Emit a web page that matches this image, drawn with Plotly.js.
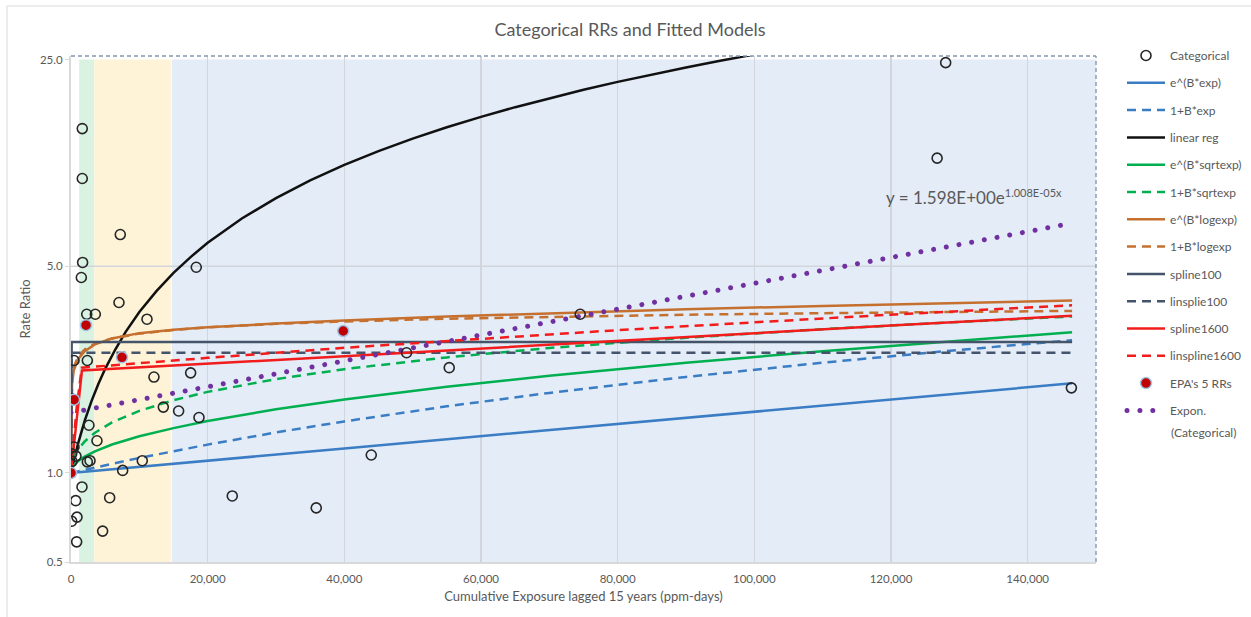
<!DOCTYPE html>
<html>
<head>
<meta charset="utf-8">
<script src="https://cdn.plot.ly/plotly-3.0.1.min.js"></script>
<style>
  html, body { margin: 0; padding: 0; background: #ffffff; }
  #chart { width: 1251px; height: 617px; }
</style>
</head>
<body>
<div id="chart"></div>
<script>
// ---------- data ----------
const catX = [1650, 1650, 7210, 1700, 1510, 18330, 7020, 2300, 3560, 11120, 440, 2390, 12140, 17510, 0, 13510, 15750, 18730, 2630, 3800, 440, 100, 730, 2390, 2780, 10430, 150, 7560, 1610, 5660, 690, 23600, 100, 880, 4630, 830, 35890, 43940, 49110, 55350, 74520, 128000, 126750, 146400];
const catY = [14.6, 9.9, 6.4, 5.15, 4.58, 4.96, 3.77, 3.44, 3.44, 3.31, 2.40, 2.40, 2.11, 2.18, 1.785, 1.67, 1.62, 1.54, 1.45, 1.285, 1.224, 1.16, 1.14, 1.09, 1.10, 1.10, 1.095, 1.02, 0.897, 0.825, 0.806, 0.836, 0.687, 0.709, 0.636, 0.585, 0.762, 1.15, 2.55, 2.27, 3.44, 24.4, 11.6, 1.94];

const curveX   = [0, 50, 150, 400, 1000, 2000, 3500, 6000, 10000, 15000, 20000, 30000, 40000, 55000, 70000, 90000, 110000, 130000, 146500];
const expSolid = [1.0, 1.0, 1.001, 1.002, 1.005, 1.01, 1.017, 1.029, 1.049, 1.074, 1.1, 1.154, 1.21, 1.3, 1.396, 1.536, 1.69, 1.86, 2.01];
const expDash  = [1.0, 1.001, 1.002, 1.005, 1.012, 1.025, 1.043, 1.074, 1.124, 1.185, 1.247, 1.371, 1.494, 1.68, 1.865, 2.112, 2.36, 2.607, 2.81];
const sqrtSolid = [1.0, 1.02, 1.036, 1.059, 1.095, 1.136, 1.184, 1.248, 1.331, 1.418, 1.498, 1.642, 1.772, 1.955, 2.131, 2.36, 2.58, 2.80, 2.99];
const sqrtDash  = [1.0, 1.044, 1.076, 1.124, 1.197, 1.278, 1.368, 1.482, 1.622, 1.762, 1.88, 2.077, 2.244, 2.459, 2.646, 2.866, 3.063, 3.243, 3.381];
const logSolid  = [1.0, 1.75, 2.0, 2.22, 2.42, 2.58, 2.72, 2.85, 2.97, 3.05, 3.11, 3.2, 3.28, 3.38, 3.47, 3.58, 3.67, 3.76, 3.83];
const logDash   = [1.0, 1.836, 2.066, 2.275, 2.469, 2.617, 2.736, 2.851, 2.959, 3.045, 3.107, 3.193, 3.254, 3.322, 3.373, 3.427, 3.47, 3.505, 3.531];

const linRegX = [0, 250, 500, 1000, 1500, 2000, 3000, 4000, 5000, 6500, 8000, 10000, 12500, 15000, 17500, 20000, 25000, 30000, 35000, 40000, 45000, 50000, 55000, 60000, 65000, 70000, 75000, 80000, 85000, 90000, 95000, 100000];
const linRegY = [1.0, 1.06, 1.12, 1.25, 1.37, 1.5, 1.75, 2.0, 2.25, 2.62, 3.0, 3.5, 4.12, 4.75, 5.37, 6.0, 7.25, 8.5, 9.75, 11.0, 12.25, 13.5, 14.75, 16.0, 17.25, 18.5, 19.75, 21.0, 22.25, 23.5, 24.75, 26.0];

const spline100X = [0, 100, 146500];
const spline100Y = [1.0, 2.77, 2.77];
const linspline100X = [0, 100, 146500];
const linspline100Y = [1.0, 2.55, 2.55];

const spline1600X = [0, 1600, 40000, 80000, 120000, 146500];
const spline1600Y = [1.0, 2.22, 2.48, 2.8, 3.15, 3.40];
const linspline1600X = [0, 400, 800, 1200, 1600, 20000, 40000, 60000, 80000, 100000, 120000, 146500];
const linspline1600Y = [1.0, 1.32, 1.64, 1.95, 2.27, 2.45, 2.65, 2.84, 3.04, 3.23, 3.43, 3.69];

const epaX = [0, 440, 2200, 7460, 39840];
const epaY = [1.0, 1.77, 3.16, 2.46, 3.02];

const trendX = [0, 50000, 100000, 146500];
const trendY = [1.60, 2.64, 4.37, 6.99];

const yTickVals = [0.5, 1, 5, 25];
const yTickText = ['0.5', '1.0', '5.0', '25.0'];

// ---------- styling ----------
const FONT = 'Lato, "Open Sans", sans-serif';
const GREY = '#595959';
const W = 2.5;
const DASH = '9px,6px';

function line(name, x, y, color, dash, rank, width) {
  return {
    type: 'scatter', mode: 'lines', name: name, x: x, y: y,
    line: {color: color, width: width || W, dash: dash || 'solid'},
    legendrank: rank, legendgroup: 'g' + rank, hoverinfo: 'skip'
  };
}

const data = [
  line('e^(B*exp)', curveX, expSolid, '#3B7DC4', 'solid', 2),
  line('1+B*exp', curveX, expDash, '#3B7DC4', DASH, 3),
  line('linear reg', linRegX, linRegY, '#111111', 'solid', 4),
  line('e^(B*sqrtexp)', curveX, sqrtSolid, '#00B050', 'solid', 5),
  line('1+B*sqrtexp', curveX, sqrtDash, '#00B050', DASH, 6),
  line('e^(B*logexp)', curveX, logSolid, '#C5702F', 'solid', 7),
  line('1+B*logexp', curveX, logDash, '#C5702F', DASH, 8),
  line('spline100', spline100X, spline100Y, '#44546A', 'solid', 9),
  line('linsplie100', linspline100X, linspline100Y, '#44546A', DASH, 10),
  line('spline1600', spline1600X, spline1600Y, '#F21C1C', 'solid', 11),
  line('linspline1600', linspline1600X, linspline1600Y, '#F21C1C', DASH, 12),
  {
    type: 'scatter', mode: 'lines', name: 'Expon.',
    x: trendX, y: trendY, line: {color: '#7030A0', width: 5, dash: 'dot'},
    legendrank: 14, legendgroup: 'g14', hoverinfo: 'skip'
  },
  {
    type: 'scatter', mode: 'markers', name: 'Categorical', x: catX, y: catY,
    marker: {symbol: 'circle-open', size: 10, color: '#262626', line: {width: 1.6, color: '#262626'}},
    legendrank: 1, legendgroup: 'g1', hoverinfo: 'skip'
  },
  {
    type: 'scatter', mode: 'markers', name: "EPA's 5 RRs", x: epaX, y: epaY,
    marker: {symbol: 'circle', size: 11, color: '#C00000', line: {width: 1.5, color: '#9DC3E6'}},
    legendrank: 13, legendgroup: 'g13', hoverinfo: 'skip'
  }
];

const shapes = [
  {type: 'rect', layer: 'below', xref: 'x', yref: 'y', x0: 1200, x1: 3400, y0: 0.5, y1: 25, fillcolor: '#DAF2E2', line: {width: 0}},
  {type: 'rect', layer: 'below', xref: 'x', yref: 'y', x0: 3400, x1: 14600, y0: 0.5, y1: 25, fillcolor: '#FEF3D7', line: {width: 0}},
  {type: 'rect', layer: 'below', xref: 'x', yref: 'y', x0: 14750, x1: 150000, y0: 0.5, y1: 25, fillcolor: '#E4ECF7', line: {width: 0}},
  {type: 'line', layer: 'below', xref: 'x', yref: 'y', x0: 0, x1: 150000, y0: 5, y1: 5, line: {color: '#D2D6DC', width: 1.3}},
  {type: 'line', layer: 'above', xref: 'paper', yref: 'paper', x0: 0, x1: 1, y0: 1, y1: 1, line: {color: '#8497B0', width: 1.4, dash: '4px,3px'}},
  {type: 'line', layer: 'above', xref: 'paper', yref: 'paper', x0: 1, x1: 1, y0: 0, y1: 1, line: {color: '#8497B0', width: 1.4, dash: '4px,3px'}},
  {type: 'line', layer: 'above', xref: 'paper', yref: 'paper', x0: -0.0624, x1: 1.16, y0: 1.0988, y1: 1.0988, line: {color: '#D9D9D9', width: 1}},
  {type: 'line', layer: 'above', xref: 'paper', yref: 'paper', x0: -0.0624, x1: -0.0624, y0: -0.12, y1: 1.0988, line: {color: '#D9D9D9', width: 1}}
];

const layout = {
  width: 1251, height: 617,
  paper_bgcolor: '#ffffff', plot_bgcolor: '#ffffff',
  margin: {l: 71, r: 155, t: 56, b: 55, pad: 0, autoexpand: false},
  font: {family: FONT, color: GREY, size: 12},
  title: {text: 'Categorical RRs and Fitted Models', font: {family: FONT, size: 18, color: GREY},
          x: 0.5036, xref: 'container', xanchor: 'center', y: 0.9514, yref: 'container', yanchor: 'middle'},
  xaxis: {
    range: [0, 150000], dtick: 20000, tick0: 0, tickformat: ',d',
    showgrid: true, gridcolor: '#D2D6DC', gridwidth: 1.2, zeroline: false,
    showline: true, linecolor: '#D9D9D9', linewidth: 1.5,
    ticks: 'outside', ticklen: 6, tickcolor: 'rgba(0,0,0,0)',
    tickfont: {family: FONT, size: 11.5, color: GREY},
    title: {text: 'Cumulative Exposure lagged 15 years (ppm-days)', font: {family: FONT, size: 13, color: GREY}, standoff: 7}
  },
  yaxis: {
    type: 'log', range: [-0.30103, 1.4098],
    tickvals: yTickVals, ticktext: yTickText,
    showgrid: false, zeroline: false,
    showline: true, linecolor: '#D9D9D9', linewidth: 2,
    ticks: 'outside', ticklen: 4, tickcolor: '#D9D9D9',
    tickfont: {family: FONT, size: 11.5, color: GREY},
    title: {text: 'Rate Ratio', font: {family: FONT, size: 13, color: GREY}, standoff: 6}
  },
  legend: {
    x: 1122 / 1251, xref: 'container', xanchor: 'left',
    y: 1 - 41 / 617, yref: 'container', yanchor: 'top',
    maxheight: 590,
    bgcolor: 'rgba(0,0,0,0)', borderwidth: 0,
    font: {family: FONT, size: 12, color: GREY},
    itemwidth: 38, traceorder: 'grouped', tracegroupgap: 8.3
  },
  shapes: shapes,
  annotations: [
    {
      xref: 'x', yref: 'y', x: 119000, y: 0.932, xanchor: 'left', yanchor: 'middle',
      text: 'y = 1.598E+00e<sup><span style="font-size:11px">1.008E-05x</span></sup>', showarrow: false,
      font: {family: FONT, size: 17, color: GREY}
    },
    {
      // second line of the "Expon. (Categorical)" legend entry
      xref: 'paper', yref: 'paper', x: (1169 - 71) / 1025, y: (562 - 433) / 506,
      xanchor: 'left', yanchor: 'middle', text: '(Categorical)', showarrow: false,
      font: {family: FONT, size: 12, color: GREY}
    }
  ],
  showlegend: true
};

Plotly.newPlot('chart', data, layout, {staticPlot: true, displayModeBar: false}).then(function (gd) {
  // round dots for the exponential trendline (Excel-style dotted line)
  gd.querySelectorAll('path').forEach(function (p) {
    const s = p.style.stroke || '';
    if (s.replace(/\s/g, '') === 'rgb(112,48,160)') {
      p.style.strokeDasharray = '0.01px,12.9px';
      p.style.strokeLinecap = 'round';
    }
  });
});
</script>
</body>
</html>
